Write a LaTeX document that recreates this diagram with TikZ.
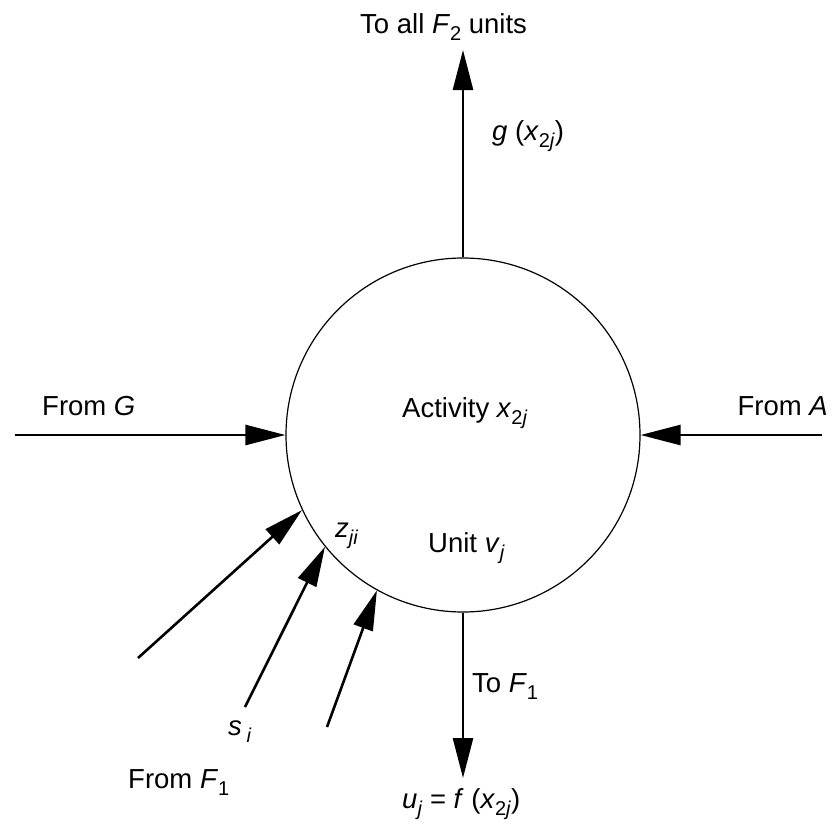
\documentclass[tikz,border=0pt]{standalone}
\usepackage{fontspec}
\setmainfont{Liberation Sans}
\usetikzlibrary{arrows.meta}
\newcommand{\iv}[1]{\textit{#1}}
\newcommand{\sbs}[1]{\raisebox{-7pt}{\fontsize{20}{22}\selectfont #1}}
\begin{document}
\begin{tikzpicture}[x=1pt,y=-1pt,
  conn/.style={line width=2.6pt,-{Triangle[length=40pt,width=20pt]}},
  lbl/.style={anchor=base west,inner sep=0pt,font=\fontsize{27.5}{32}\selectfont},
  unitc/.style={circle,draw,line width=1.2pt,minimum size=354pt,inner sep=0pt}]
\useasboundingbox (0,0) rectangle (832,827);
\node[unitc] (c) at (463,435) {};
% free ends
\coordinate (g) at (15,435);
\coordinate (a) at (822,435);
\coordinate (top) at (463,50);
\coordinate (bot) at (463,778);
\coordinate (f1) at (138,658);
\coordinate (f2) at (245,707);
\coordinate (f3) at (327,727);
% connectors
\draw[conn] (g) -- (c.west);
\draw[conn] (a) -- (c.east);
\draw[conn] (c.north) -- (top);
\draw[conn] (c.south) -- (bot);
\draw[conn] (f1) -- (c.205.7);
\draw[conn] (f2) -- (c.219.7);
\draw[conn] (f3) -- (c.241.3);
% labels
\node[lbl] (ltop) at (360,33) {To all \iv{F}\sbs{2} units};
\node[lbl] (lg) at (492,140) {\iv{g} (\iv{x}\sbs{2\iv{j}})};
\node[lbl] (lfg) at (42,415) {From \iv{G}};
\node[lbl, anchor=base east] (lfa) at (828,415) {From \iv{A}};
\node[lbl] (lact) at (402,417) {Activity \iv{x}\sbs{2\iv{j}}};
\node[lbl] (lunit) at (428,552) {Unit \iv{v}\sbs{\iv{j}}};
\node[lbl] (lz) at (335,537) {\iv{z}\sbs{\iv{ji}}};
\node[lbl] (ltof) at (472,692) {To \iv{F}\sbs{1}};
\node[lbl] (ls) at (228,735) {\iv{s}\,\sbs{\iv{i}}};
\node[lbl] (lff) at (128,788) {From \iv{F}\sbs{1}};
\node[lbl] (lu) at (402,808) {\iv{u}\sbs{\iv{j}} = \iv{f} (\iv{x}\sbs{2\iv{j}})};
\end{tikzpicture}
\end{document}
